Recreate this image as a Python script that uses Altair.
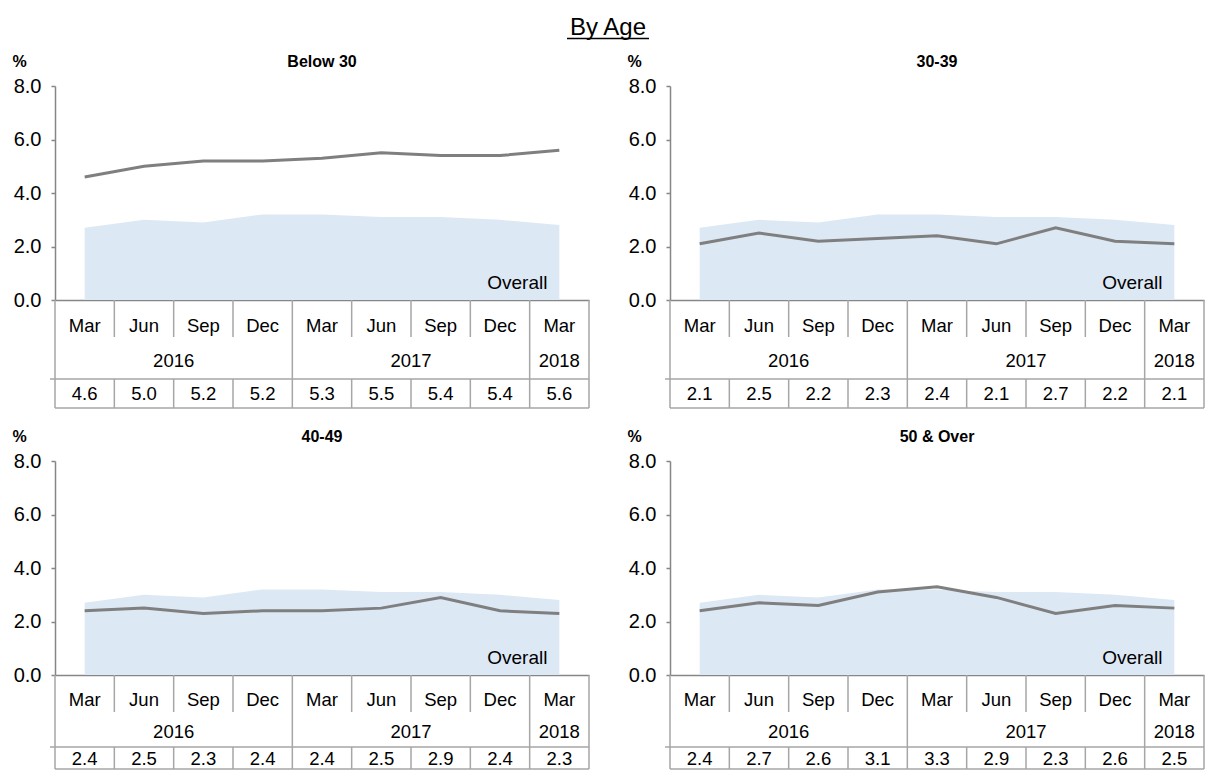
import altair as alt
import pandas as pd

FONT = "Liberation Sans"
AXIS_GRAY = "#868686"
TABLE_GRAY = "#A6A6A6"
AREA_BLUE = "#DDE8F5"
LINE_GRAY = "#7F7F7F"

months = ["Mar", "Jun", "Sep", "Dec", "Mar", "Jun", "Sep", "Dec", "Mar"]
years = ["2016", "2016", "2016", "2016", "2017", "2017", "2017", "2017", "2018"]
overall = [2.7, 3.0, 2.9, 3.2, 3.2, 3.1, 3.1, 3.0, 2.8]
below_30 = [4.6, 5.0, 5.2, 5.2, 5.3, 5.5, 5.4, 5.4, 5.6]
age_30_39 = [2.1, 2.5, 2.2, 2.3, 2.4, 2.1, 2.7, 2.2, 2.1]
age_40_49 = [2.4, 2.5, 2.3, 2.4, 2.4, 2.5, 2.9, 2.4, 2.3]
age_50_over = [2.4, 2.7, 2.6, 3.1, 3.3, 2.9, 2.3, 2.6, 2.5]
panel_titles = ["Below 30", "30-39", "40-49", "50 & Over"]
y_ticks = [0, 2, 4, 6, 8]
main_title = "By Age"

W, H = 534, 214
n = len(months)

base = pd.DataFrame({
    "idx": list(range(n)),
    "month": months,
    "year": years,
    "overall": overall,
})
base["pos"] = base["idx"] + 0.5

# category boundaries (multi-level axis separators)
bounds = []
for b in range(n + 1):
    if b == 0 or b == n or years[b] != years[b - 1]:
        kind = "long"
    else:
        kind = "short"
    bounds.append({"b": b, "kind": kind})
bounds = pd.DataFrame(bounds)

yr = base.groupby("year", as_index=False).agg(lo=("idx", "min"), hi=("idx", "max"))
yr["center"] = (yr["lo"] + yr["hi"] + 1) / 2

span = pd.DataFrame({"x0": [0], "x1": [n]})

x_scale = alt.Scale(domain=[0, n], nice=False, zero=False)
y_scale = alt.Scale(domain=[0, 8], nice=False)
x_axis = alt.Axis(labels=False, ticks=False, title=None, grid=False,
                  domainColor=AXIS_GRAY, domainWidth=1.5)
y_axis = alt.Axis(values=y_ticks, format=".1f", title="%", titleAngle=0,
                  titleX=-36, titleY=-25, titleAlign="center", titleBaseline="middle",
                  titleFontWeight="bold", titleFontSize=16, titleFont=FONT, titleColor="black",
                  labelFont=FONT, labelFontSize=20, labelColor="black", labelPadding=10,
                  tickSize=4, tickColor=AXIS_GRAY, tickWidth=1.5,
                  domainColor=AXIS_GRAY, domainWidth=1.5, grid=False)

ROW1 = dict(mt=26, ms=37, yt=61, ys=79, vt=94, vb=108)
ROW2 = dict(mt=25, ms=37, yt=57, ys=72, vt=84, vb=94)
TFS = 18.5

# page geometry of the reference (plot origins)
COL_X = [54, 669]
ROW_Y = [86, 461]


def panel(title, vals, g, header=False):
    df = base.copy()
    df["value"] = vals
    X = alt.X("pos:Q", scale=x_scale, axis=x_axis)
    Xb = alt.X("b:Q", scale=x_scale, axis=x_axis)
    rule = dict(color=TABLE_GRAY, strokeWidth=1.5)
    txt = dict(font=FONT, fontSize=TFS, color="black", baseline="middle")
    one = df[df["idx"] == 0]

    area = alt.Chart(df).mark_area(color=AREA_BLUE, opacity=1).encode(
        x=X, y=alt.Y("overall:Q", scale=y_scale, axis=y_axis))
    line = alt.Chart(df).mark_line(color=LINE_GRAY, strokeWidth=3).encode(
        x=X, y=alt.Y("value:Q", scale=y_scale, axis=y_axis))
    lbl = alt.Chart(one).mark_text(
        text="Overall", font=FONT, fontSize=19, align="right", baseline="middle", color="black"
    ).encode(x=alt.datum(8.3), y=alt.datum(0.64))
    ttl = alt.Chart(one).mark_text(
        text=title, font=FONT, fontSize=16, fontWeight="bold", align="center",
        baseline="middle", color="black"
    ).encode(x=alt.value(W / 2), y=alt.value(-24))

    month_txt = alt.Chart(df).mark_text(**txt).encode(
        x=X, y=alt.value(H + g["mt"]), text="month:N")
    year_txt = alt.Chart(yr).mark_text(**txt).encode(
        x=alt.X("center:Q", scale=x_scale, axis=x_axis), y=alt.value(H + g["yt"]), text="year:N")
    val_txt = alt.Chart(df).mark_text(**txt).encode(
        x=X, y=alt.value(H + g["vt"]), text=alt.Text("value:Q", format=".1f"))

    short_sep = alt.Chart(bounds).transform_filter("datum.kind == 'short'").mark_rule(**rule).encode(
        x=Xb, y=alt.value(H), y2=alt.value(H + g["ms"]))
    long_sep = alt.Chart(bounds).transform_filter("datum.kind == 'long'").mark_rule(**rule).encode(
        x=Xb, y=alt.value(H), y2=alt.value(H + g["ys"]))
    val_sep = alt.Chart(bounds).mark_rule(**rule).encode(
        x=Xb, y=alt.value(H + g["ys"]), y2=alt.value(H + g["vb"]))
    h_top = alt.Chart(span).mark_rule(**rule).encode(
        x=alt.X("x0:Q", scale=x_scale, axis=x_axis), x2="x1:Q", y=alt.value(H + g["ys"]))
    h_bot = alt.Chart(span).mark_rule(**rule).encode(
        x=alt.X("x0:Q", scale=x_scale, axis=x_axis), x2="x1:Q", y=alt.value(H + g["vb"]))
    stub = alt.Chart(span).mark_rule(**rule).encode(
        x=alt.value(-5), x2=alt.value(0), y=alt.value(H + g["ys"]))

    layers = [area, line, lbl, ttl, short_sep, long_sep, val_sep, h_top, h_bot, stub,
              month_txt, year_txt, val_txt]

    if header:
        cx = 607 - COL_X[0]
        hdr_df = pd.DataFrame({"t": [main_title]})
        layers.append(alt.Chart(hdr_df).mark_text(
            font=FONT, fontSize=24, color="black", baseline="alphabetic", align="center"
        ).encode(x=alt.value(cx), y=alt.value(35 - ROW_Y[0]), text="t:N"))
        layers.append(alt.Chart(hdr_df).mark_rule(color="black", strokeWidth=1.4).encode(
            x=alt.value(cx - 41), x2=alt.value(cx + 41), y=alt.value(38.5 - ROW_Y[0])))

    return alt.layer(*layers).properties(width=W, height=H)


p1 = panel(panel_titles[0], below_30, ROW1, header=True)
p2 = panel(panel_titles[1], age_30_39, ROW1)
p3 = panel(panel_titles[2], age_40_49, ROW2)
p4 = panel(panel_titles[3], age_50_over, ROW2)

chart = alt.concat(
    p1, p2, p3, p4, columns=2, bounds="flush", align="each",
    spacing={"column": COL_X[1] - COL_X[0] - W, "row": ROW_Y[1] - ROW_Y[0] - H},
).properties(
    padding={"left": 3, "top": 8, "right": 0, "bottom": 0}
).configure_view(stroke=None)

chart.save("out.html", embed_options={"renderer": "svg", "actions": False})
